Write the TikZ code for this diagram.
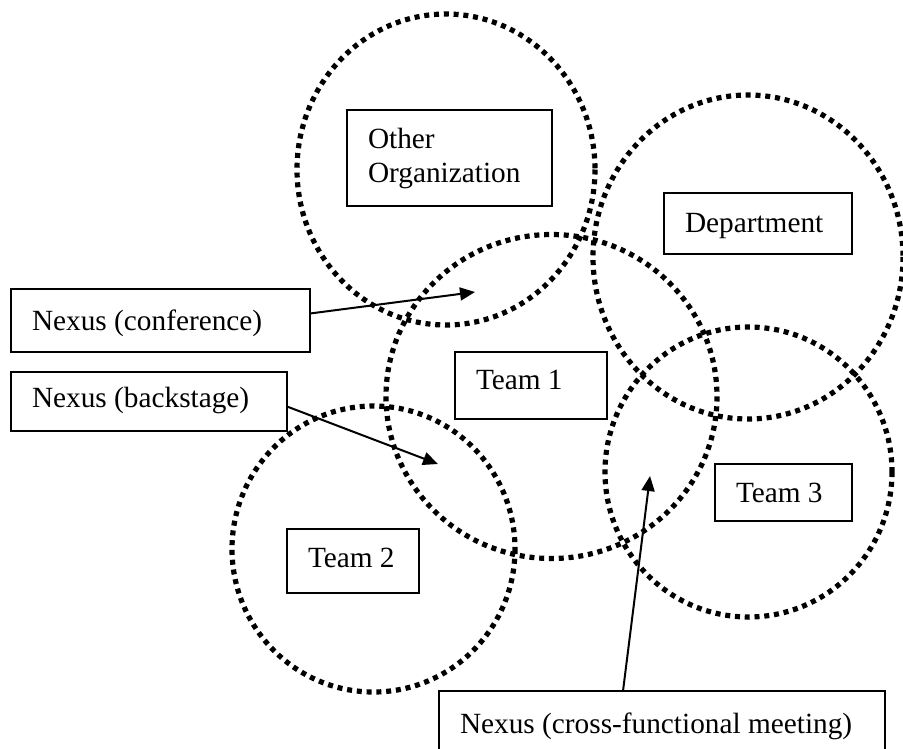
\documentclass[tikz,border=0pt]{standalone}
\usepackage{fontspec}
\setmainfont{Liberation Serif}
\usetikzlibrary{arrows.meta}

\tikzset{
  dotring/.style={line width=5.2pt, dash pattern=on 5pt off 4.8pt, line cap=butt},
  tagbox/.style={draw, line width=1.8pt, fill=white, anchor=north west, outer sep=0pt,
    inner xsep=21pt, inner ysep=0pt, align=flush left,
    font=\fontsize{29.3pt}{34pt}\selectfont},
  pointer/.style={line width=2pt, -{Triangle[length=15pt,width=13pt]}}
}

\begin{document}
\begin{tikzpicture}[x=1pt, y=-1pt]
  \clip (0,0) rectangle (903,748);

  % overlapping groups
  \draw[dotring] (446,169.5) ellipse [x radius=149, y radius=155.5];
  \draw[dotring] (748,257)   ellipse [x radius=155, y radius=162];
  \draw[dotring] (551.5,396.5) ellipse [x radius=165.5, y radius=162];
  \draw[dotring] (373.5,549) ellipse [x radius=141.5, y radius=143];
  \draw[dotring] (748.5,472) ellipse [x radius=143.5, y radius=145];

  % labels of the groups
  \node[tagbox, text width=163pt, text height=38pt, text depth=58pt] (other) at (347,110) {Other\\Organization};
  \node[tagbox, text width=146pt, text height=39pt, text depth=22pt] (dept) at (664,193) {Department};
  \node[tagbox, text width=110pt, text height=37pt, text depth=30pt] (team1) at (455,352) {Team 1};
  \node[tagbox, text width=90pt,  text height=38pt, text depth=26pt] (team2) at (287,529) {Team 2};
  \node[tagbox, text width=95pt,  text height=38pt, text depth=19pt] (team3) at (715,464) {Team 3};

  % nexus call-outs
  \node[tagbox, text width=257pt, text height=41pt, text depth=22pt] (conf) at (11,289) {Nexus (conference)};
  \node[tagbox, text width=234pt, text height=35pt, text depth=24pt] (back) at (11,372) {Nexus (backstage)};
  \node[tagbox, text width=404pt, text height=42pt, text depth=40pt] (cross) at (439,691) {Nexus (cross-functional meeting)};

  % points inside the overlaps
  \coordinate (confpt)  at (475,292);
  \coordinate (backpt)  at (438,464);
  \coordinate (crosspt) at (650,476);

  \draw[pointer] ([yshift=7pt]conf.east) -- (confpt);
  \draw[pointer] ([yshift=-5pt]back.east) -- (backpt);
  \draw[pointer] ([xshift=-39pt]cross.north) -- (crosspt);
\end{tikzpicture}
\end{document}
